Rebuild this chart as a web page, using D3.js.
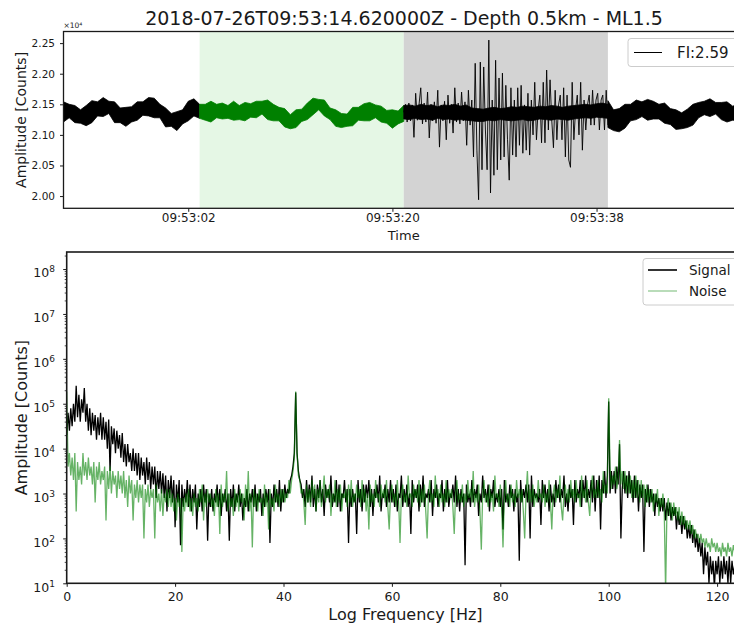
<!DOCTYPE html>
<html>
<head>
<meta charset="utf-8">
<script src="https://cdn.jsdelivr.net/npm/d3@7"></script>
<style>
  body { margin: 0; background: #fff; }
  text { font-family: 'DejaVu Sans', sans-serif; fill: #1a1a1a; }
</style>
</head>
<body>
<script>
const width = 734;
const height = 628;

const title = '2018-07-26T09:53:14.620000Z - Depth 0.5km - ML1.5';

// ---- waveform (counts)
const traceStart = '2018-07-26T09:52:51Z';
const traceEnd = '2018-07-26T09:53:51Z';
const noiseWindow = ['2018-07-26T09:53:03Z', '2018-07-26T09:53:21Z'];
const signalWindow = ['2018-07-26T09:53:21Z', '2018-07-26T09:53:39Z'];
const timeTicks = ['2018-07-26T09:53:02Z', '2018-07-26T09:53:20Z', '2018-07-26T09:53:38Z'];
const countTicks = [20000, 20500, 21000, 21500, 22000, 22500];
const fiLabel = 'FI:2.59';

// quiet trace before the event, band edges every 0.5 s
const quietStep = 0.5;
const preUpper = [
  21540, 21500, 21480, 21410, 21480, 21560, 21540, 21610, 21550, 21540,
  21440, 21450, 21460, 21540, 21540, 21610, 21600, 21500, 21440, 21350,
  21380, 21410, 21550, 21590, 21500, 21500, 21550, 21500, 21520, 21480,
  21550, 21480, 21530, 21510, 21550, 21550, 21570, 21500, 21450, 21430,
  21330, 21410, 21420, 21520, 21600, 21580, 21570, 21440, 21410, 21350,
  21340, 21450, 21450, 21510, 21530, 21490, 21470, 21400, 21410, 21390,
  21480
];
const preLower = [
  21210, 21280, 21200, 21190, 21150, 21200, 21310, 21300, 21350, 21200,
  21200, 21140, 21210, 21240, 21320, 21310, 21280, 21280, 21130, 21140,
  21070, 21180, 21230, 21310, 21270, 21240, 21210, 21280, 21260, 21270,
  21240, 21250, 21230, 21290, 21280, 21340, 21250, 21230, 21230, 21130,
  21100, 21120, 21220, 21250, 21330, 21410, 21310, 21250, 21140, 21120,
  21140, 21150, 21240, 21230, 21230, 21280, 21210, 21190, 21110, 21180,
  21220
];

// event section, one value every 0.15 s
const eventStep = 0.15;
const eventTrace = [
  21370, 21500, 21210, 21520, 21230, 21490, 20960, 21680, 21240, 21500,
  21770, 21180, 21520, 21210, 21700, 20950, 21500, 21230, 21540, 21190,
  21730, 20800, 21490, 21230, 21550, 20920, 21650, 21190, 21500, 21030,
  21770, 21210, 21520, 21180, 21700, 21230, 21540, 20830, 21730, 21160,
  21570, 20640, 22170, 20750, 19940, 22190, 20430, 22110, 21080, 20430,
  22550, 20050, 21570, 20340, 22220, 20430, 21930, 20590, 22010, 20640,
  21810, 20920, 20260, 21770, 20670, 21570, 20640, 21770, 20830, 21810,
  20700, 21490, 20750, 21680, 20670, 21570, 21000, 21860, 20920, 21410,
  21650, 20870, 21860, 20870, 22060, 21080, 21900, 21240, 20790, 21730,
  20920, 21490, 21650, 20920, 21770, 20640, 21650, 20590, 20470, 21860,
  20920, 21410, 21650, 21000, 21860, 20750, 21570, 21080, 21490, 21650,
  21160, 21730, 21160, 21570, 21680, 21080, 21570, 21650, 21080, 21730,
  21160
];
// dense core of the event oscillations, every 0.5 s
const eventCoreUpper = [
  21480, 21490, 21470, 21500, 21480, 21490, 21460, 21490, 21480, 21500,
  21470, 21490, 21440, 21430, 21420, 21440, 21450, 21430, 21440, 21460,
  21450, 21470, 21460, 21450, 21470, 21460, 21480, 21470, 21450, 21470,
  21480, 21490, 21500, 21490, 21510, 21520, 21500
];
const eventCoreLower = [
  21260, 21250, 21270, 21250, 21260, 21240, 21270, 21250, 21260, 21240,
  21250, 21240, 21230, 21220, 21220, 21240, 21230, 21250, 21240, 21230,
  21240, 21250, 21230, 21240, 21260, 21250, 21240, 21260, 21250, 21240,
  21260, 21270, 21280, 21270, 21290, 21280, 21270
];

// quiet trace after the signal window
const postUpper = [
  21560, 21410, 21430, 21500, 21500, 21570, 21540, 21580, 21550, 21500,
  21520, 21430, 21410, 21360, 21420, 21500, 21530, 21550, 21590, 21530,
  21530, 21540, 21470, 21500, 21460
];
const postLower = [
  21120, 21070, 21050, 21110, 21230, 21250, 21300, 21240, 21260, 21260,
  21190, 21170, 21090, 21100, 21120, 21160, 21280, 21330, 21300, 21340,
  21250, 21210, 21240, 21230, 21230
];

// ---- spectra, log10 of amplitude every 0.25 Hz from 0 to 125 Hz
const freqStep = 0.25;
const signalLog = [
  4.3, 4.8, 4.4, 4.9,
  4.5, 5.0, 4.6, 5.4, 4.7, 5.2, 4.6, 5.1, 4.8, 5.35, 4.6, 5.0,
  4.4, 4.9, 4.3, 4.8, 4.4, 4.75, 4.2, 4.7, 4.3, 4.8, 4.2, 4.7,
  4.2, 4.6, 4.0, 4.65, 3.5, 4.5, 4.1, 4.45, 3.9, 4.4, 4.0, 4.3,
  3.8, 4.35, 3.7, 4.1, 3.6, 4.1, 3.7, 3.9, 3.5, 4.0, 3.5, 3.9,
  3.4, 3.9, 3.3, 3.8, 3.4, 3.7, 3.2, 3.8, 3.3, 3.7, 3.1, 3.6,
  3.2, 3.6, 2.9, 3.5, 3.1, 3.5, 3.0, 3.45, 2.9, 3.4, 2.6, 3.3,
  2.9, 3.4, 2.8, 3.3, 2.25, 3.2, 2.8, 3.3, 1.85, 3.2, 2.7, 3.1,
  2.8, 3.3, 2.7, 3.2, 2.6, 3.1, 2.8, 3.2, 2.2, 3.0, 2.7, 3.1,
  2.6, 3.2, 2.8, 3.1, 1.95, 3.0, 2.7, 3.1, 2.6, 3.0, 2.8, 3.2,
  2.7, 3.1, 2.5, 3.0, 2.8, 3.1, 2.6, 3.0, 1.95, 3.1, 2.7, 3.2,
  2.6, 3.0, 2.8, 3.2, 2.7, 3.0, 2.4, 2.9, 2.7, 3.1, 2.6, 3.0,
  2.8, 3.1, 2.7, 3.2, 2.6, 3.0, 2.8, 3.1, 2.5, 3.0, 2.7, 3.1,
  2.8, 3.1, 1.9, 3.0, 2.7, 3.2, 2.8, 3.1, 2.7, 3.3, 2.6, 3.1,
  2.8, 3.2, 2.9, 3.1, 3.0, 3.3, 3.4, 3.6, 3.9, 5.25,
  3.9, 3.5, 3.3, 3.2, 2.9, 3.1, 2.7, 3.3, 2.8, 3.2,
  2.8, 3.4, 2.7, 3.1, 2.6, 3.2, 2.9, 3.3, 2.8, 3.1,
  2.5, 3.2, 2.9, 3.1, 2.8, 3.4, 2.7, 3.0, 2.8, 3.3,
  2.7, 3.2, 2.6, 3.0, 2.9, 3.3, 2.8, 3.1, 1.9, 3.1,
  2.7, 3.1, 2.8, 3.0, 2.1, 3.3, 2.8, 3.1, 2.6, 3.2,
  2.8, 3.2, 2.9, 3.3, 2.7, 3.1, 2.5, 3.1, 2.9, 3.2,
  2.8, 3.4, 2.6, 3.0, 2.9, 3.2, 2.7, 3.1, 2.8, 3.3,
  2.8, 3.1, 2.7, 3.2, 2.6, 3.0, 2.9, 3.4, 2.7, 3.1,
  2.8, 3.2, 2.7, 3.0, 2.1, 3.3, 2.8, 3.1, 2.9, 3.2,
  2.6, 3.2, 2.8, 3.4, 2.7, 3.0, 2.9, 3.1, 2.8, 3.3,
  2.5, 3.1, 2.9, 3.2, 2.7, 3.0, 2.9, 3.3, 2.6, 3.1,
  2.8, 3.3, 2.7, 3.0, 2.9, 3.2, 2.8, 3.4, 2.7, 3.1,
  2.6, 3.1, 2.8, 3.0, 1.4, 3.2, 2.8, 3.0, 2.7, 3.3,
  2.8, 3.1, 2.9, 3.2, 2.5, 3.0, 2.8, 3.4, 2.9, 3.1,
  2.8, 3.2, 2.6, 3.1, 2.9, 3.3, 2.7, 3.0, 2.8, 3.1,
  2.7, 3.1, 2.2, 3.3, 2.8, 3.0, 2.7, 3.2, 2.9, 3.1,
  2.6, 3.1, 2.8, 3.0, 1.5, 3.3, 2.8, 3.1, 2.9, 3.2,
  2.8, 3.2, 2.0, 3.4, 2.7, 3.1, 2.9, 3.0, 2.8, 3.1,
  2.3, 3.3, 2.9, 3.2, 2.8, 3.1, 2.6, 3.2, 2.8, 3.0,
  2.7, 3.3, 2.9, 3.2, 2.8, 3.1, 2.9, 3.4, 2.7, 3.0,
  2.6, 3.2, 2.9, 3.1, 2.3, 3.3, 2.8, 3.1, 2.9, 3.3,
  2.7, 3.3, 2.9, 3.4, 2.8, 3.1, 2.9, 3.3, 2.8, 3.4,
  2.6, 3.3, 2.9, 3.4, 2.2, 3.3, 3.0, 3.5, 2.9, 3.4,
  5.05, 3.0, 3.5, 3.1, 3.5, 3.0, 3.6, 3.2, 4.1, 2.0,
  3.1, 3.5, 3.0, 3.4, 2.9, 3.5, 3.0, 3.3, 2.8, 3.4,
  2.9, 3.3, 2.6, 3.2, 2.9, 3.2, 1.7, 3.1, 2.8, 3.2,
  2.7, 3.1, 2.8, 3.0, 2.5, 3.0, 2.7, 2.9, 2.6, 2.9,
  2.6, 2.9, 2.4, 2.8, 2.5, 2.8, 2.4, 2.7, 2.5, 2.7,
  2.2, 2.6, 2.3, 2.5, 2.1, 2.5, 2.2, 2.4, 2.0, 2.3,
  2.0, 2.3, 1.9, 2.2, 1.8, 2.1, 1.7, 2.0, 1.6, 1.9,
  1.2, 1.8, 1.4, 1.7, 1.0, 1.6, 1.2, 1.5, 0.9, 1.5,
  1.2, 1.6, 1.0, 1.5, 1.1, 1.6, 1.2, 1.5, 1.0, 1.6,
  1.0, 1.5, 1.2, 1.4, 0.9, 1.5, 1.1, 1.4, 1.0, 1.4,
  1.3
];
const noiseLog = [
  5.27, 3.6, 3.9, 3.4,
  3.8, 3.3, 3.9, 2.6, 3.7, 3.3, 3.6, 3.2, 3.9, 3.4, 3.7, 3.3,
  3.8, 3.4, 3.6, 3.2, 3.7, 2.8, 3.6, 3.3, 3.7, 3.2, 3.5, 3.3,
  3.6, 2.4, 3.5, 3.1, 3.6, 3.0, 3.5, 3.2, 3.4, 2.9, 3.5, 3.1,
  3.4, 3.0, 3.5, 2.9, 3.3, 2.7, 3.4, 3.0, 3.3, 2.4, 3.2, 2.9,
  3.3, 2.8, 3.2, 2.9, 3.2, 2.0, 3.1, 2.8, 3.2, 2.7, 3.1, 2.9,
  3.1, 2.0, 3.2, 2.8, 3.0, 2.6, 3.1, 2.5, 3.0, 2.8, 3.1, 2.7,
  3.1, 2.7, 3.0, 2.6, 2.9, 2.4, 3.0, 2.7, 2.9, 1.7, 2.9, 2.6,
  3.0, 2.7, 3.1, 2.6, 2.9, 2.5, 3.0, 2.7, 2.9, 2.6, 3.1, 2.8,
  3.2, 2.4, 3.0, 2.7, 3.1, 2.8, 3.0, 2.7, 2.9, 2.5, 3.1, 2.7,
  3.0, 2.1, 3.2, 2.7, 3.0, 2.8, 3.5, 2.6, 3.0, 2.7, 2.9, 2.5,
  3.1, 2.7, 3.0, 2.6, 3.1, 2.8, 3.0, 2.4, 3.2, 2.7, 3.5, 2.6,
  3.0, 1.8, 3.1, 2.7, 3.0, 2.6, 3.1, 2.8, 2.9, 2.5, 3.2, 2.7,
  3.0, 2.2, 3.1, 2.7, 2.9, 2.6, 3.2, 2.8, 3.0, 2.7, 3.1, 2.8,
  3.1, 2.8, 3.0, 2.9, 3.3, 3.0, 3.3, 3.5, 3.8, 5.27,
  3.9, 3.4, 3.3, 3.0, 3.1, 2.8, 2.3, 3.2, 2.8, 3.1,
  2.7, 3.3, 2.9, 3.2, 2.6, 3.1, 2.8, 3.3, 2.7, 3.0,
  3.4, 2.8, 3.1, 2.9, 3.2, 2.5, 3.0, 2.8, 3.3, 2.7,
  3.1, 2.8, 3.2, 2.6, 3.0, 2.9, 3.1, 2.7, 3.2, 2.8,
  3.3, 2.7, 3.0, 2.8, 3.2, 2.9, 3.1, 2.7, 3.3, 2.8,
  3.1, 2.6, 3.0, 2.2, 3.2, 2.8, 3.0, 2.7, 3.3, 2.9,
  3.0, 2.7, 3.2, 2.9, 3.1, 2.8, 3.3, 2.7, 2.2, 3.0,
  3.2, 2.8, 3.0, 2.7, 3.3, 2.8, 1.9, 3.0, 3.2, 2.8,
  3.0, 2.7, 3.4, 2.9, 3.0, 2.7, 3.2, 2.9, 3.1, 2.8,
  3.3, 2.7, 3.1, 2.8, 3.2, 2.6, 2.0, 3.0, 3.3, 2.8,
  3.0, 2.7, 3.4, 2.9, 3.1, 2.7, 3.2, 2.8, 3.0, 2.7,
  3.3, 2.8, 3.1, 2.9, 3.1, 2.7, 2.1, 3.0, 3.3, 2.8,
  3.0, 2.8, 3.2, 2.7, 3.0, 2.8, 3.3, 2.9, 3.1, 2.8,
  3.5, 2.7, 3.0, 2.8, 3.2, 2.6, 1.75, 3.0, 3.3, 2.8,
  3.0, 2.7, 3.2, 2.8, 3.0, 2.6, 3.4, 2.9, 3.0, 2.7,
  3.2, 2.7, 1.8, 3.0, 3.3, 2.8, 3.0, 2.7, 3.2, 2.8,
  3.0, 2.7, 3.3, 2.9, 3.1, 2.8, 3.1, 2.6, 2.0, 3.0,
  3.5, 2.8, 3.1, 2.8, 3.2, 2.7, 3.0, 2.8, 3.3, 2.9,
  3.0, 2.8, 3.2, 2.7, 3.0, 2.8, 3.3, 2.8, 2.2, 3.0,
  3.2, 2.8, 3.1, 2.9, 3.4, 2.7, 2.4, 3.0, 3.2, 2.8,
  3.1, 2.8, 3.3, 2.9, 3.1, 2.8, 3.3, 2.9, 3.0, 2.7,
  3.4, 2.9, 3.1, 2.8, 3.3, 2.8, 2.5, 3.1, 3.4, 2.9,
  3.1, 2.9, 3.3, 2.9, 3.1, 2.8, 3.5, 3.0, 3.2, 3.0,
  5.12, 3.6, 3.1, 3.4, 3.2, 3.6, 3.1, 3.3, 4.19, 3.2,
  3.5, 3.1, 3.5, 3.0, 3.4, 3.0, 3.4, 2.9, 3.3, 2.9,
  3.4, 2.9, 3.3, 2.8, 3.3, 2.9, 3.2, 2.7, 3.2, 2.8,
  3.1, 2.8, 3.1, 2.6, 3.0, 2.8, 3.1, 2.5, 2.9, 2.7,
  3.0, 2.6, 0.8, 2.7, 2.9, 2.5, 2.8, 2.4, 2.8, 2.5,
  2.7, 2.4, 2.7, 2.3, 2.6, 2.3, 2.5, 2.2, 2.4, 2.2,
  2.4, 2.1, 2.3, 2.0, 2.2, 2.0, 2.1, 1.9, 2.1, 1.9,
  2.0, 1.8, 2.0, 1.8, 1.9, 1.7, 2.0, 1.8, 1.9, 1.7,
  1.9, 1.7, 1.8, 1.6, 1.9, 1.7, 1.8, 1.6, 1.9, 1.7,
  1.8, 1.6, 1.85, 1.7, 1.8, 1.6, 1.8, 1.65, 1.8, 1.7,
  1.8
];

const freqTicks = [0, 20, 40, 60, 80, 100, 120];
const ampDecades = [1, 2, 3, 4, 5, 6, 7, 8];

const ink = '#1a1a1a';

const svg = d3.select('body')
  .append('svg')
    .attr('viewBox', [0, 0, width, height].join(' '))
    .attr('width', width)
    .attr('height', height);

svg.append('rect')
  .attr('width', width)
  .attr('height', height)
  .attr('fill', '#fff');

const defs = svg.append('defs');

svg.append('text')
  .attr('x', 404)
  .attr('y', 25)
  .attr('text-anchor', 'middle')
  .attr('font-size', 19)
  .text(title);

// strip the library defaults so the css font applies
const plain = (g) => g.attr('font-family', null).attr('font-size', null);

/* ---------------- waveform ---------------- */

const wave = { left: 63.5, right: 744, top: 31.5, bottom: 208.3 };
const parse = (s) => new Date(s);
const at = (start, step, i) => new Date(start.getTime() + i * step * 1000);
const t0 = parse(traceStart);

const x = d3.scaleUtc()
  .domain([t0, parse(traceEnd)])
  .range([wave.left, wave.right]);

const y = d3.scaleLinear()
  .domain([19800, 22690])
  .range([wave.bottom, wave.top]);

defs.append('clipPath')
    .attr('id', 'wave-clip')
  .append('rect')
    .attr('x', wave.left)
    .attr('y', wave.top)
    .attr('width', wave.right - wave.left)
    .attr('height', wave.bottom - wave.top);

const wplot = svg.append('g').attr('clip-path', 'url(#wave-clip)');

wplot.append('rect')
  .attr('x', x(parse(noiseWindow[0])))
  .attr('y', wave.top)
  .attr('width', x(parse(noiseWindow[1])) - x(parse(noiseWindow[0])))
  .attr('height', wave.bottom - wave.top)
  .attr('fill', '#e5f7e5');

wplot.append('rect')
  .attr('x', x(parse(signalWindow[0])))
  .attr('y', wave.top)
  .attr('width', x(parse(signalWindow[1])) - x(parse(signalWindow[0])))
  .attr('height', wave.bottom - wave.top)
  .attr('fill', '#d3d3d3');

const pre = preUpper.map((hi, i) => ({ t: at(t0, quietStep, i), hi, lo: preLower[i] }));
const split = Math.round((parse(noiseWindow[0]) - t0) / 1000 / quietStep);
const post = postUpper.map((hi, i) => ({ t: at(parse(signalWindow[1]), quietStep, i), hi, lo: postLower[i] }));
const core = eventCoreUpper.map((hi, i) => ({ t: at(parse(signalWindow[0]), quietStep, i), hi, lo: eventCoreLower[i] }));
const event = eventTrace.map((v, i) => ({ t: at(parse(signalWindow[0]), eventStep, i), v }));

const band = d3.area()
  .x((d) => x(d.t))
  .y0((d) => y(d.lo))
  .y1((d) => y(d.hi));

const trace = d3.line()
  .x((d) => x(d.t))
  .y((d) => y(d.v));

[[pre.slice(0, split + 1), '#000'], [pre.slice(split), '#008000'], [post, '#000'], [core, '#000']]
  .forEach(([d, c]) => {
    wplot.append('path')
      .datum(d)
      .attr('d', band)
      .attr('fill', c)
      .attr('stroke', c)
      .attr('stroke-width', 0.8);
  });

wplot.append('path')
  .datum(event)
  .attr('d', trace)
  .attr('fill', 'none')
  .attr('stroke', '#000')
  .attr('stroke-width', 0.9);

svg.append('g')
  .attr('transform', `translate(0,${wave.bottom})`)
  .call(d3.axisBottom(x)
    .tickValues(timeTicks.map(parse))
    .tickFormat(d3.utcFormat('%H:%M:%S'))
    .tickSize(3.5)
    .tickPadding(2))
  .call(plain)
  .call((g) => g.select('.domain').remove())
  .call((g) => g.selectAll('line').attr('stroke', ink))
  .call((g) => g.selectAll('text').attr('font-size', 12));

svg.append('g')
  .attr('transform', `translate(${wave.left},0)`)
  .call(d3.axisLeft(y)
    .tickValues(countTicks)
    .tickFormat((d) => (d / 1e4).toFixed(2))
    .tickSize(3.5)
    .tickPadding(5))
  .call(plain)
  .call((g) => g.select('.domain').remove())
  .call((g) => g.selectAll('line').attr('stroke', ink))
  .call((g) => g.selectAll('text').attr('font-size', 10.5));

svg.append('rect')
  .attr('x', wave.left)
  .attr('y', wave.top)
  .attr('width', wave.right - wave.left)
  .attr('height', wave.bottom - wave.top)
  .attr('fill', 'none')
  .attr('stroke', ink)
  .attr('stroke-width', 1.3);

svg.append('text')
  .attr('x', wave.left)
  .attr('y', 28)
  .attr('font-size', 7.5)
  .text('×10⁴');

svg.append('text')
  .attr('x', (wave.left + wave.right) / 2)
  .attr('y', 240)
  .attr('text-anchor', 'middle')
  .attr('font-size', 13)
  .text('Time');

svg.append('text')
  .attr('transform', `translate(25.5,${(wave.top + wave.bottom) / 2}) rotate(-90)`)
  .attr('text-anchor', 'middle')
  .attr('font-size', 14)
  .text('Amplitude [Counts]');

const legendTop = svg.append('g');
legendTop.append('rect')
  .attr('x', 628).attr('y', 38.5)
  .attr('width', 111).attr('height', 28)
  .attr('rx', 3)
  .attr('fill', '#fff').attr('fill-opacity', 0.8)
  .attr('stroke', '#cccccc');
legendTop.append('line')
  .attr('x1', 634).attr('x2', 662)
  .attr('y1', 52.5).attr('y2', 52.5)
  .attr('stroke', '#000').attr('stroke-width', 1);
legendTop.append('text')
  .attr('x', 677).attr('y', 58)
  .attr('font-size', 15)
  .text(fiLabel);

/* ---------------- spectra ---------------- */

const spec = { left: 66.7, right: 744.2, top: 252, bottom: 583.3 };

const fx = d3.scaleLinear()
  .domain([0, 125])
  .range([spec.left, spec.right]);

const fy = d3.scaleLog()
  .domain([10, Math.pow(10, 8.38)])
  .range([spec.bottom, spec.top]);

const spectrum = (logs) => logs.map((v, i) => ({ f: i * freqStep, a: Math.pow(10, v) }));

defs.append('clipPath')
    .attr('id', 'spec-clip')
  .append('rect')
    .attr('x', spec.left)
    .attr('y', spec.top)
    .attr('width', spec.right - spec.left)
    .attr('height', spec.bottom - spec.top);

const splot = svg.append('g').attr('clip-path', 'url(#spec-clip)');

const specLine = d3.line()
  .x((d) => fx(d.f))
  .y((d) => fy(d.a));

splot.append('path')
  .datum(spectrum(signalLog))
  .attr('d', specLine)
  .attr('fill', 'none')
  .attr('stroke', '#000')
  .attr('stroke-width', 1.3);

splot.append('path')
  .datum(spectrum(noiseLog))
  .attr('d', specLine)
  .attr('fill', 'none')
  .attr('stroke', '#008000')
  .attr('stroke-opacity', 0.6)
  .attr('stroke-width', 1.3);

svg.append('g')
  .attr('transform', `translate(0,${spec.bottom})`)
  .call(d3.axisBottom(fx)
    .tickValues(freqTicks)
    .tickSize(3.5)
    .tickPadding(5.5))
  .call(plain)
  .call((g) => g.select('.domain').remove())
  .call((g) => g.selectAll('line').attr('stroke', ink))
  .call((g) => g.selectAll('text').attr('font-size', 12.5));

const minor = [];
ampDecades.forEach((e) => d3.range(2, 10).forEach((m) => {
  if (m * Math.pow(10, e) < fy.domain()[1]) minor.push(m * Math.pow(10, e));
}));

svg.append('g')
  .attr('transform', `translate(${spec.left},0)`)
  .call(d3.axisLeft(fy).tickValues(minor).tickFormat('').tickSize(2))
  .call((g) => g.select('.domain').remove())
  .call((g) => g.selectAll('line').attr('stroke', ink).attr('stroke-width', 0.8));

const yAxis2 = svg.append('g')
  .attr('transform', `translate(${spec.left},0)`)
  .call(d3.axisLeft(fy)
    .tickValues(ampDecades.map((e) => Math.pow(10, e)))
    .tickFormat('')
    .tickSize(3.5)
    .tickPadding(8.2))
  .call(plain)
  .call((g) => g.select('.domain').remove())
  .call((g) => g.selectAll('line').attr('stroke', ink));

yAxis2.selectAll('.tick text')
  .attr('font-size', 12.5)
  .attr('dy', '0.62em')
  .each(function (d) {
    const t = d3.select(this);
    t.text('10');
    t.append('tspan')
      .attr('dy', '-0.55em')
      .attr('font-size', 9)
      .text(Math.round(Math.log10(d)));
  });

svg.append('rect')
  .attr('x', spec.left)
  .attr('y', spec.top)
  .attr('width', spec.right - spec.left)
  .attr('height', spec.bottom - spec.top)
  .attr('fill', 'none')
  .attr('stroke', ink)
  .attr('stroke-width', 1.6);

svg.append('text')
  .attr('x', (spec.left + spec.right) / 2)
  .attr('y', 620)
  .attr('text-anchor', 'middle')
  .attr('font-size', 16)
  .text('Log Frequency [Hz]');

svg.append('text')
  .attr('transform', `translate(27,${(spec.top + spec.bottom) / 2}) rotate(-90)`)
  .attr('text-anchor', 'middle')
  .attr('font-size', 16)
  .text('Amplitude [Counts]');

const legendBottom = svg.append('g');
legendBottom.append('rect')
  .attr('x', 643).attr('y', 258.5)
  .attr('width', 96).attr('height', 46.5)
  .attr('rx', 3)
  .attr('fill', '#fff').attr('fill-opacity', 0.8)
  .attr('stroke', '#cccccc');

[['Signal', '#000', 1, 1.6], ['Noise', '#008000', 0.55, 1]].forEach(([label, c, o, w], i) => {
  const yy = 270 + i * 21;
  legendBottom.append('line')
    .attr('x1', 648).attr('x2', 677)
    .attr('y1', yy).attr('y2', yy)
    .attr('stroke', c)
    .attr('stroke-opacity', o)
    .attr('stroke-width', w);
  legendBottom.append('text')
    .attr('x', 689).attr('y', yy + 5)
    .attr('font-size', 13.5)
    .text(label);
});
</script>
</body>
</html>
